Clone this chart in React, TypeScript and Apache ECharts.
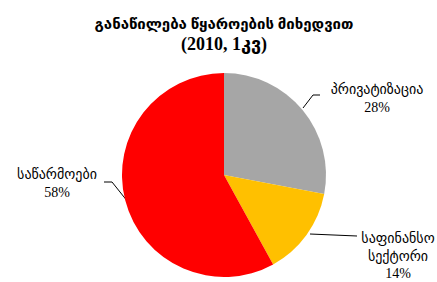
import React, { useEffect, useRef } from "react";
import * as echarts from "echarts";

const titleLines = ["განაწილება წყაროების მიხედვით", "(2010, 1კვ)"];
const categories = ["პრივატიზაცია", "საფინანსო\nსექტორი", "საწარმოები"];
const values = [28, 14, 58];
const colors = ["#A6A6A6", "#FFC000", "#FF0000"];

const FONT = "'Liberation Serif', 'DejaVu Sans', serif";

export default function App() {
  const ref = useRef<HTMLDivElement>(null);
  useEffect(() => {
    if (!ref.current) return;
    const chart = echarts.init(ref.current, null, { renderer: "svg" });
    const labelPos = [
      { x: 377, y: 81, pts: [[303, 108], [313, 95], [320, 95]] },
      { x: 398, y: 230, pts: [[310, 234], [357, 236], [357, 236]] },
      { x: 57, y: 166, pts: [[128, 202], [112, 182], [104, 182]] },
    ];
    chart.setOption({
      animation: false,
      title: {
        text: `{a|${titleLines[0]}}\n{b|${titleLines[1]}}`,
        left: 219,
        top: 9,
        textAlign: "center",
        textStyle: {
          fontFamily: FONT,
          fontWeight: "bold",
          color: "#000",
          rich: {
            a: { fontFamily: FONT, fontSize: 15, fontWeight: "bold", lineHeight: 20, color: "#000" },
            b: { fontFamily: FONT, fontSize: 18, fontWeight: "bold", lineHeight: 20, color: "#000" },
          },
        },
      },
      series: [
        {
          type: "pie",
          center: [224, 175],
          radius: 102,
          startAngle: 90,
          clockwise: true,
          data: categories.map((c, i) => ({
            name: c,
            value: values[i],
            itemStyle: { color: colors[i] },
          })),
          label: {
            show: true,
            formatter: (p: any) => `${p.name}\n${Math.round(p.percent)}%`,
            fontFamily: FONT,
            fontSize: 14,
            lineHeight: 17.5,
            color: "#000",
            align: "center",
            overflow: "none",
            width: 200,
          },
          labelLine: {
            show: true,
            lineStyle: { color: "#000", width: 1 },
          },
          labelLayout: (params: any) => {
            const lp = labelPos[params.dataIndex];
            return {
              x: lp.x,
              y: lp.y,
              align: "center",
              verticalAlign: "top",
              labelLinePoints: lp.pts,
            };
          },
        },
      ],
    });
    return () => chart.dispose();
  }, []);
  return (
    <div
      ref={ref}
      style={{ position: "fixed", left: 0, top: 0, width: 437, height: 282, background: "#fff" }}
    />
  );
}
